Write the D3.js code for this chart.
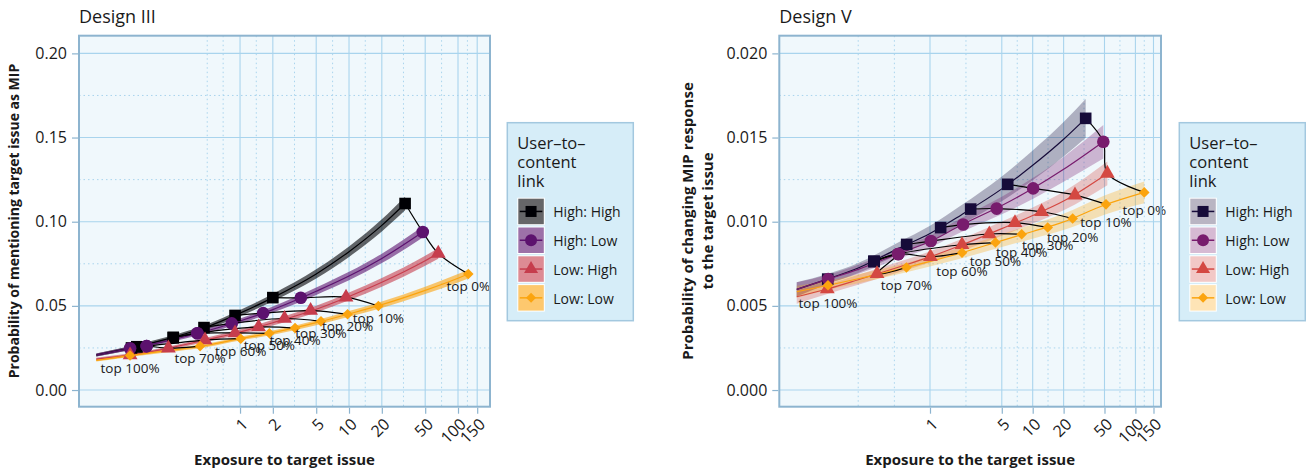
<!DOCTYPE html>
<html>
<head>
<meta charset="utf-8">
<script src="https://cdn.jsdelivr.net/npm/d3@7"></script>
<style>
  body { margin: 0; background: #fff; }
  svg text { font-family: "Open Sans", sans-serif; fill: #1a1a1a; }
</style>
</head>
<body>
<div id="chart"></div>
<script>
// legend groups and the quantile labels along the low:low curve
var groups = ["High: High", "High: Low", "Low: High", "Low: Low"];
var quantiles = ["top 0%", "top 10%", "top 20%", "top 30%", "top 40%", "top 50%", "top 60%", "top 70%", "top 100%"];

// design III -- rows follow groups, columns follow quantiles
var exposureIII = [
    [32.7, 2.0, 0.90, 0.467, 0.244, 0.244, 0.113, 0.113, 0.101],
    [47.5, 3.61, 1.63, 0.839, 0.406, 0.406, 0.139, 0.139, 0.098],
    [65.9, 9.39, 4.44, 2.56, 1.48, 0.90, 0.477, 0.22, 0.098],
    [124.3, 18.6, 9.7, 5.53, 3.2, 1.86, 1.015, 0.43, 0.098]
];
var probIII = [
    [0.1108, 0.0549, 0.0443, 0.0371, 0.0312, 0.0312, 0.0257, 0.0257, 0.0250],
    [0.0939, 0.0548, 0.0457, 0.0396, 0.0337, 0.0337, 0.0261, 0.0261, 0.0248],
    [0.0812, 0.0551, 0.0472, 0.0425, 0.0374, 0.0339, 0.0297, 0.0249, 0.0208],
    [0.0689, 0.0499, 0.0450, 0.0408, 0.0368, 0.0337, 0.0305, 0.0261, 0.0205]
];
// fitted curves and half width of the confidence band
var fitXIII = [
    [0.048, 0.1, 0.2, 0.5, 1, 2, 5, 10, 20, 32.7],
    [0.048, 0.1, 0.2, 0.5, 1, 2, 5, 10, 20, 47.5],
    [0.048, 0.1, 0.2, 0.5, 1, 2, 5, 10, 20, 50, 65.9],
    [0.048, 0.1, 0.2, 0.5, 1, 2, 5, 10, 20, 50, 100, 124.3]
];
var fitYIII = [
    [0.0208, 0.0250, 0.0298, 0.0376, 0.0457, 0.0549, 0.0690, 0.0822, 0.0978, 0.1108],
    [0.0208, 0.0248, 0.0287, 0.0352, 0.0410, 0.0478, 0.0587, 0.0677, 0.0782, 0.0939],
    [0.0184, 0.0209, 0.0243, 0.0300, 0.0345, 0.0400, 0.0480, 0.0556, 0.0640, 0.0768, 0.0812],
    [0.0176, 0.0206, 0.0231, 0.0266, 0.0305, 0.0341, 0.0400, 0.0452, 0.0507, 0.0592, 0.0664, 0.0689]
];
var bandIII = [
    [0.0009, 0.0011, 0.0012, 0.0015, 0.0018, 0.0022, 0.0027, 0.0031, 0.0036, 0.0040],
    [0.0009, 0.0010, 0.0011, 0.0013, 0.0015, 0.0018, 0.0022, 0.0025, 0.0028, 0.0033],
    [0.0008, 0.0009, 0.0010, 0.0012, 0.0014, 0.0017, 0.0020, 0.0023, 0.0026, 0.0030, 0.0032],
    [0.0007, 0.0008, 0.0009, 0.0010, 0.0011, 0.0013, 0.0015, 0.0017, 0.0019, 0.0022, 0.0025, 0.0026]
];
var xTicksIII = [1, 2, 5, 10, 20, 50, 100, 150];
var xMinorIII = [0.5, 0.7, 1.41, 3.16, 7.07, 14.1, 31.6, 70.7, 122];
var yTicksIII = [0, 0.05, 0.10, 0.15, 0.20];
var yMinorIII = [0.025, 0.075, 0.125, 0.175];

// design V
var exposureV = [
    [32.8, 5.71, 2.49, 1.27, 0.593, 0.285, 0.285, 0.285, 0.101],
    [48.7, 10.1, 4.46, 2.10, 1.02, 0.491, 0.491, 0.491, 0.102],
    [53.3, 25.8, 12.2, 6.72, 3.78, 2.05, 1.01, 0.305, 0.100],
    [122, 51.7, 24.5, 14.0, 7.81, 4.34, 2.05, 0.590, 0.1016]
];
var probV = [
    [0.01614, 0.01222, 0.01075, 0.00965, 0.00865, 0.00764, 0.00764, 0.00764, 0.00659],
    [0.01475, 0.01198, 0.01078, 0.00983, 0.00885, 0.00808, 0.00808, 0.00808, 0.00659],
    [0.01287, 0.01158, 0.01059, 0.00994, 0.00927, 0.00863, 0.00792, 0.00691, 0.00600],
    [0.01174, 0.01103, 0.01019, 0.00966, 0.00925, 0.00876, 0.00816, 0.00728, 0.00622]
];
var fitXV = [
    [0.0504, 0.1, 0.2, 0.5, 1, 2, 5, 10, 20, 32.8],
    [0.0504, 0.1, 0.2, 0.5, 1, 2, 5, 10, 20, 48.7],
    [0.0504, 0.1, 0.2, 0.5, 1, 2, 5, 10, 20, 53.3],
    [0.0504, 0.1, 0.2, 0.5, 1, 2, 5, 10, 20, 50, 122]
];
var fitYV = [
    [0.00598, 0.00659, 0.00725, 0.00843, 0.00930, 0.01039, 0.01195, 0.01335, 0.01490, 0.01614],
    [0.00598, 0.00657, 0.00717, 0.00812, 0.00882, 0.00979, 0.01096, 0.01197, 0.01311, 0.01475],
    [0.00554, 0.00600, 0.00655, 0.00731, 0.00791, 0.00860, 0.00959, 0.01037, 0.01123, 0.01287],
    [0.00584, 0.00621, 0.00661, 0.00717, 0.00764, 0.00814, 0.00888, 0.00942, 0.00999, 0.01099, 0.01174]
];
var bandV = [
    [0.00042, 0.00030, 0.00030, 0.00036, 0.00046, 0.00057, 0.00074, 0.00088, 0.00102, 0.00115],
    [0.00042, 0.00027, 0.00028, 0.00031, 0.00036, 0.00042, 0.00052, 0.00062, 0.00074, 0.00099],
    [0.00042, 0.00030, 0.00030, 0.00031, 0.00033, 0.00036, 0.00042, 0.00048, 0.00055, 0.00070],
    [0.00036, 0.00027, 0.00027, 0.00028, 0.00030, 0.00033, 0.00038, 0.00043, 0.00049, 0.00057, 0.00065]
];
var xTicksV = [1, 5, 10, 20, 50, 100, 150];
var xMinorV = [0.2, 0.45, 2.24, 7.07, 14.1, 31.6, 70.7, 122];
var yTicksV = [0, 0.005, 0.010, 0.015, 0.020];
var yMinorV = [0.0025, 0.0075, 0.0125, 0.0175];


var panels = [
    {
        title: "Design III", exposure: exposureIII, prob: probIII, fitX: fitXIII, fitY: fitYIII, band: bandIII,
        xTicks: xTicksIII, xMinor: xMinorIII, yTicks: yTicksIII, yMinor: yMinorIII, yFormat: ".2f",
        left: 79, right: 490, top: 35.7, bottom: 406.7,
        xDomain: [0.0333, 196.6], yDomain: [-0.0099, 0.2105],
        colors: ["#000004", "#5c126e", "#c63d4d", "#fba40e"], bandOpacity: 0.6, labelDy: 12,
        yTitle: ["Probability of mentioning target issue as MIP"], yTitleX: 13, yTitleSize: 14,
        xTitle: "Exposure to target issue", legendX: 507.3
    },
    {
        title: "Design V", exposure: exposureV, prob: probV, fitX: fitXV, fitY: fitYV, band: bandV,
        xTicks: xTicksV, xMinor: xMinorV, yTicks: yTicksV, yMinor: yMinorV, yFormat: ".3f",
        left: 779.3, right: 1161, top: 35.7, bottom: 406.7,
        xDomain: [0.0341, 177.5], yDomain: [-0.00099, 0.02105],
        colors: ["#160b39", "#781c6d", "#d44842", "#fba40e"], bandOpacity: 0.3, labelDy: 18,
        yTitle: ["Probability of changing MIP response", "to the target issue"], yTitleX: 686.7, yTitleSize: 15,
        xTitle: "Exposure to the target issue", legendX: 1179.3
    }
];

var gridColor = "#a9d4ed";
var frameColor = "#8db4cf";

var symbols = [
    {type: d3.symbolSquare, size: 135, rotate: 0},
    {type: d3.symbolCircle, size: 125, rotate: 0},
    {type: d3.symbolTriangle, size: 95, rotate: 0},
    {type: d3.symbolSquare, size: 56, rotate: 45}
];

function marker(sel, i, color, scale) {
    var s = symbols[i];
    sel.append("path")
        .attr("d", d3.symbol().type(s.type).size(s.size * (scale || 1))())
        .attr("transform", "rotate(" + s.rotate + ")")
        .attr("fill", color);
}

var svg = d3.select("#chart").append("svg")
    .attr("width", 1306)
    .attr("height", 472);


function drawPanel(p) {

    var x = d3.scaleLog().domain(p.xDomain).range([p.left, p.right]);
    var y = d3.scaleLinear().domain(p.yDomain).range([p.bottom, p.top]);
    var g = svg.append("g");

    g.append("rect")
        .attr("x", p.left).attr("y", p.top)
        .attr("width", p.right - p.left).attr("height", p.bottom - p.top)
        .attr("fill", "#f0f8fc");

    // grid
    g.selectAll("line.vminor").data(p.xMinor).enter().append("line")
        .attr("x1", x).attr("x2", x).attr("y1", p.top).attr("y2", p.bottom)
        .attr("stroke", gridColor).attr("stroke-dasharray", "1.5,3");
    g.selectAll("line.hminor").data(p.yMinor).enter().append("line")
        .attr("x1", p.left).attr("x2", p.right).attr("y1", y).attr("y2", y)
        .attr("stroke", gridColor).attr("stroke-dasharray", "1.5,3");
    g.selectAll("line.vmajor").data(p.xTicks).enter().append("line")
        .attr("x1", x).attr("x2", x).attr("y1", p.top).attr("y2", p.bottom)
        .attr("stroke", gridColor).attr("stroke-width", 1.1);
    g.selectAll("line.hmajor").data(p.yTicks).enter().append("line")
        .attr("x1", p.left).attr("x2", p.right).attr("y1", y).attr("y2", y)
        .attr("stroke", gridColor).attr("stroke-width", 1.1);

    var series = groups.map(function(name, i) {
        return {
            i: i,
            fit: p.fitX[i].map(function(v, j) { return {x: v, y: p.fitY[i][j], b: p.band[i][j]}; }),
            pts: p.exposure[i].map(function(v, j) { return {x: v, y: p.prob[i][j], q: quantiles[j]}; })
        };
    });

    var area = d3.area().curve(d3.curveMonotoneX)
        .x(function(d) { return x(d.x); })
        .y0(function(d) { return y(d.y - d.b); })
        .y1(function(d) { return y(d.y + d.b); });
    var line = d3.line().curve(d3.curveMonotoneX)
        .x(function(d) { return x(d.x); })
        .y(function(d) { return y(d.y); });

    g.selectAll("path.band").data(series).enter().append("path")
        .attr("d", function(s) { return area(s.fit); })
        .attr("fill", function(s) { return p.colors[s.i]; })
        .attr("fill-opacity", p.bandOpacity);

    g.selectAll("path.fit").data(series).enter().append("path")
        .attr("d", function(s) { return line(s.fit); })
        .attr("fill", "none")
        .attr("stroke", function(s) { return p.colors[s.i]; })
        .attr("stroke-width", 1.2);

    // same quantile joined across the four groups
    var link = d3.line().curve(d3.curveCatmullRom)
        .x(function(d) { return x(d.x); })
        .y(function(d) { return y(d.y); });
    quantiles.forEach(function(q, j) {
        g.append("path")
            .attr("d", link(series.map(function(s) { return s.pts[j]; })))
            .attr("fill", "none")
            .attr("stroke", "#000")
            .attr("stroke-width", 1.2);
    });

    series.forEach(function(s) {
        var m = g.selectAll(null).data(s.pts).enter().append("g")
            .attr("transform", function(d) { return "translate(" + x(d.x) + "," + y(d.y) + ")"; });
        marker(m, s.i, p.colors[s.i]);
    });

    g.selectAll("text.q").data(series[3].pts).enter().append("text")
        .attr("x", function(d) { return x(d.x); })
        .attr("y", function(d) { return y(d.y) + p.labelDy; })
        .attr("text-anchor", "middle")
        .attr("dominant-baseline", "central")
        .style("font-size", "13.5px")
        .text(function(d) { return d.q; });

    g.append("rect")
        .attr("x", p.left).attr("y", p.top)
        .attr("width", p.right - p.left).attr("height", p.bottom - p.top)
        .attr("fill", "none").attr("stroke", frameColor).attr("stroke-width", 2);

    // axes
    var ya = g.append("g")
        .attr("transform", "translate(" + (p.left - 1) + ",0)")
        .call(d3.axisLeft(y).tickValues(p.yTicks).tickFormat(d3.format(p.yFormat)).tickSize(6).tickPadding(5));
    ya.select(".domain").remove();
    ya.attr("font-family", null).attr("font-size", null);
    ya.selectAll("line").attr("stroke", frameColor).attr("stroke-width", 1.2);
    ya.selectAll("text").style("font-size", "16px");

    var xa = g.append("g")
        .attr("transform", "translate(0," + (p.bottom + 1) + ")")
        .call(d3.axisBottom(x).tickValues(p.xTicks).tickFormat(d3.format("d")).tickSize(6));
    xa.select(".domain").remove();
    xa.attr("font-family", null).attr("font-size", null);
    xa.selectAll("line").attr("stroke", frameColor).attr("stroke-width", 1.2);
    xa.selectAll("text")
        .attr("x", 0).attr("y", 0).attr("dy", "0.75em")
        .attr("text-anchor", "end")
        .attr("transform", "translate(0,9) rotate(-45)")
        .style("font-size", "16px");

    // titles
    g.append("text")
        .attr("x", p.left).attr("y", 22.5)
        .style("font-size", "18px")
        .text(p.title);

    g.append("text")
        .attr("x", (p.left + p.right) / 2).attr("y", 459)
        .attr("text-anchor", "middle").attr("dominant-baseline", "central")
        .style("font-size", "15px").style("font-weight", "bold")
        .text(p.xTitle);

    p.yTitle.forEach(function(t, k) {
        g.append("text")
            .attr("transform", "translate(" + (p.yTitleX + k * 20) + ",221) rotate(-90)")
            .attr("text-anchor", "middle").attr("dominant-baseline", "central")
            .style("font-size", p.yTitleSize + "px").style("font-weight", "bold")
            .text(t);
    });

    // legend
    var lg = g.append("g").attr("transform", "translate(" + p.legendX + ",122.7)");
    lg.append("rect")
        .attr("width", 126).attr("height", 198)
        .attr("fill", "#d6edf8").attr("stroke", "#a3c8df").attr("stroke-width", 1.5);
    ["User\u2013to\u2013", "content", "link"].forEach(function(t, k) {
        lg.append("text")
            .attr("x", 10).attr("y", 20 + k * 18.7)
            .attr("dominant-baseline", "central")
            .style("font-size", "16.5px")
            .text(t);
    });
    groups.forEach(function(name, i) {
        var ky = 75 + i * 28.8;
        var key = lg.append("g").attr("transform", "translate(10," + ky + ")");
        key.append("rect").attr("width", 27.5).attr("height", 27.5).attr("fill", "#fff");
        key.append("rect").attr("x", 1).attr("y", 1).attr("width", 25.5).attr("height", 25.5)
            .attr("fill", p.colors[i]).attr("fill-opacity", p.bandOpacity);
        key.append("line").attr("x1", 2.5).attr("x2", 25).attr("y1", 13.75).attr("y2", 13.75)
            .attr("stroke", p.colors[i]).attr("stroke-width", 1.5);
        var c = key.append("g").attr("transform", "translate(13.75,13.75)");
        marker(c, i, p.colors[i], 0.9);
        lg.append("text")
            .attr("x", 46).attr("y", ky + 14)
            .attr("dominant-baseline", "central")
            .style("font-size", "14px")
            .text(name);
    });
}

panels.forEach(drawPanel);
</script>
</body>
</html>
